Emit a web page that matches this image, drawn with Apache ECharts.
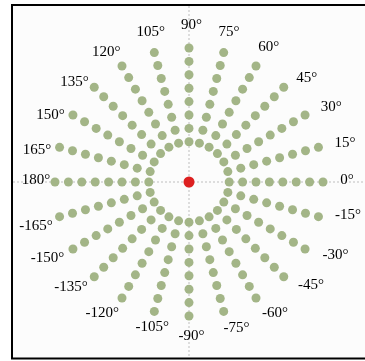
<!DOCTYPE html>
<html>
<head>
<meta charset="utf-8">
<script src="https://cdn.jsdelivr.net/npm/echarts@6/dist/echarts.min.js"></script>
<style>
html,body{margin:0;padding:0;background:#fff;}
#chart{width:365px;height:361px;}
</style>
</head>
<body>
<div id="chart"></div>
<script>
// Ray directions (degrees) and dot distances along each ray
const rayAngles = [0,15,30,45,60,75,90,105,120,135,150,165,180,195,210,225,240,255,270,285,300,315,330,345];
const dotRadii = [3,4,5,6,7,8,9,10];
const angleLabels = ['0°','15°','30°','45°','60°','75°','90°','105°','120°','135°','150°','165°','180°','-165°','-150°','-135°','-120°','-105°','-90°','-75°','-60°','-45°','-30°','-15°'];
// where each label sits (polar radius / angle)
const labelRadii = [11.6,11.8,11.8,11.5,11.5,11.4,11.6,11.5,11.5,11.4,11.6,11.75,11.6,12.1,12.2,12.0,11.9,11.3,11.6,11.5,11.7,11.85,12.1,11.95];
const labelAngles = [0,13.7,27.8,41.6,59.9,75.8,90,105.3,123.6,140,155,168.8,180,196.3,208.2,221.5,236,255,270,287,302.2,318.8,332.7,347.6];
const centerPoint = [0, 0];

const dots = [];
rayAngles.forEach(a => dotRadii.forEach(r => dots.push([r, a])));
const labelData = angleLabels.map((t, i) => ({ value: [labelRadii[i], labelAngles[i]], name: t }));

const chart = echarts.init(document.getElementById('chart'), null, { renderer: 'canvas' });
const cx = 189, cy = 182;
chart.setOption({
  backgroundColor: '#ffffff',
  animation: false,
  polar: { center: [cx, cy], radius: 174.2 },
  angleAxis: { type: 'value', min: 0, max: 360, startAngle: 0, clockwise: false, show: false },
  radiusAxis: { type: 'value', min: 0, max: 13, show: false },
  graphic: [
    { type: 'rect', z: -10, shape: { x: 12, y: 5, width: 360, height: 353.5 },
      style: { fill: '#fcfcfc', stroke: '#000', lineWidth: 2 } },
    { type: 'line', z: 1, shape: { x1: cx, y1: 6, x2: cx, y2: 357 },
      style: { stroke: '#bdbdbd', lineWidth: 1, lineDash: [2, 2] } },
    { type: 'line', z: 1, shape: { x1: 13, y1: cy, x2: 365, y2: cy },
      style: { stroke: '#bdbdbd', lineWidth: 1, lineDash: [2, 2] } }
  ],
  series: [
    { type: 'scatter', coordinateSystem: 'polar', symbolSize: 9, z: 3,
      itemStyle: { color: '#a3b587', opacity: 1 }, data: dots },
    { type: 'scatter', coordinateSystem: 'polar', symbolSize: 11, z: 4,
      itemStyle: { color: '#dd2020', opacity: 1 }, data: [centerPoint] },
    { type: 'scatter', coordinateSystem: 'polar', symbolSize: 0.1, z: 5,
      itemStyle: { color: '#fcfcfc', opacity: 1 },
      label: { show: true, position: 'inside', offset: [2.5, -1.5], formatter: p => p.name,
        fontFamily: '"Liberation Serif", serif', fontSize: 15, color: '#000', opacity: 1 },
      data: labelData }
  ]
});
</script>
</body>
</html>
